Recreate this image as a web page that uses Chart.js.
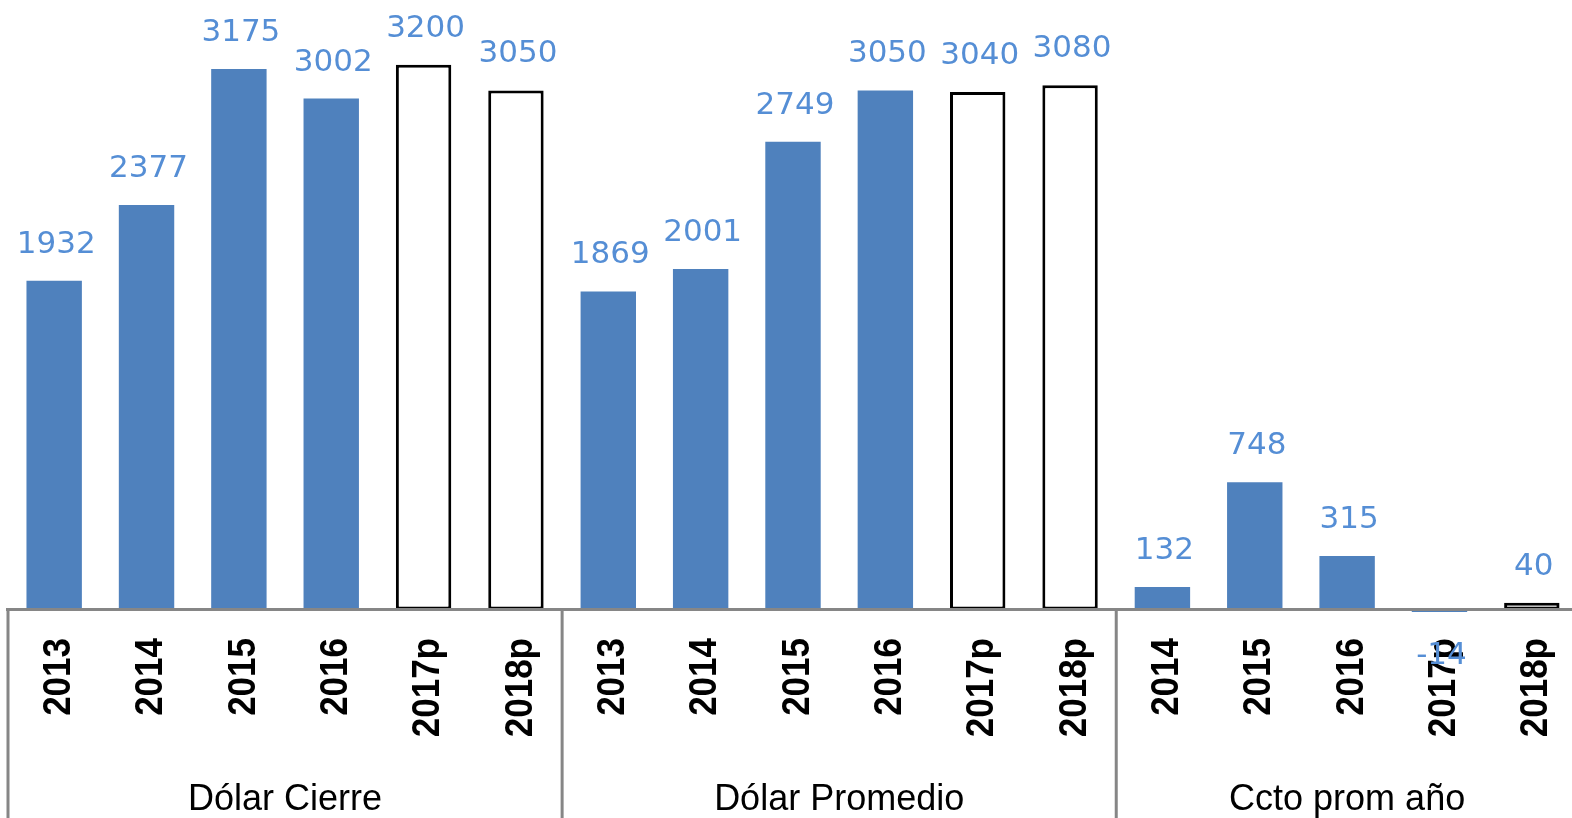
<!doctype html>
<html>

<head>
    <meta charset="utf-8">
    <title>Dólar</title>
    <script src="https://cdn.jsdelivr.net/npm/chart.js"></script>
    <style>
        html, body { margin: 0; padding: 0; background: #fff; overflow: hidden; }
    </style>
</head>

<body>
    <canvas id="grafico" width="1578" height="818"></canvas>

    <script>
        // grupos y valores
        var grupos = ['Dólar Cierre', 'Dólar Promedio', 'Ccto prom año'];
        var aniosCierre = ['2013', '2014', '2015', '2016', '2017p', '2018p'];
        var dolarCierre = [1932, 2377, 3175, 3002, 3200, 3050];
        var aniosPromedio = ['2013', '2014', '2015', '2016', '2017p', '2018p'];
        var dolarPromedio = [1869, 2001, 2749, 3050, 3040, 3080];
        var aniosCcto = ['2014', '2015', '2016', '2017p', '2018p'];
        var cctoPromAnio = [132, 748, 315, -14, 40];

        var etiquetas = aniosCierre.concat(aniosPromedio, aniosCcto);
        var valores = dolarCierre.concat(dolarPromedio, cctoPromAnio);
        var tamGrupos = [aniosCierre.length, aniosPromedio.length, aniosCcto.length];

        // las proyecciones (p) positivas van en blanco con borde negro
        var esProy = etiquetas.map((e, i) => e.endsWith('p') && valores[i] >= 0);
        var azul = '#4F81BD';

        var dibujos = {
            id: 'dibujos',
            afterDatasetsDraw(chart) {
                var ctx = chart.ctx;
                var x = chart.scales.x;
                var y = chart.scales.y;
                var cero = y.getPixelForValue(0);
                var paso = x.getPixelForValue(1) - x.getPixelForValue(0);
                ctx.save();
                ctx.strokeStyle = '#868686';
                ctx.lineWidth = 3;
                ctx.beginPath();
                ctx.moveTo(x.left - 2, cero);
                ctx.lineTo(x.right, cero);
                // separadores de grupo
                var i = 0;
                [0].concat(tamGrupos).forEach(n => {
                    i += n;
                    var px = x.getPixelForValue(i) - paso / 2;
                    ctx.moveTo(px, cero);
                    ctx.lineTo(px, chart.height);
                });
                ctx.stroke();
                ctx.restore();
            },
            afterDraw(chart) {
                var ctx = chart.ctx;
                var x = chart.scales.x;
                var paso = x.getPixelForValue(1) - x.getPixelForValue(0);
                ctx.save();

                // años, rotados
                ctx.fillStyle = '#000';
                ctx.font = 'bold 35px "Liberation Sans"';
                ctx.textAlign = 'right';
                ctx.textBaseline = 'middle';
                etiquetas.forEach((e, i) => {
                    ctx.save();
                    ctx.translate(x.getPixelForValue(i) + 5, 638);
                    ctx.rotate(-Math.PI / 2);
                    ctx.scale(1, 1.1);
                    ctx.fillText(e, 0, 0);
                    ctx.restore();
                });

                // nombres de grupo
                ctx.font = '36px "Liberation Sans"';
                ctx.textAlign = 'center';
                ctx.textBaseline = 'alphabetic';
                var inicio = 0;
                grupos.forEach((g, k) => {
                    var a = x.getPixelForValue(inicio) - paso / 2;
                    var b = x.getPixelForValue(inicio + tamGrupos[k]) - paso / 2;
                    ctx.fillText(g, (a + b) / 2, 810);
                    inicio += tamGrupos[k];
                });

                // valores sobre las barras
                ctx.fillStyle = '#558ED5';
                ctx.font = '31px "DejaVu Sans"';
                chart.getDatasetMeta(0).data.forEach((barra, i) => {
                    var v = valores[i];
                    var py = v >= 0 ? barra.y - 28 : barra.y + 52;
                    ctx.fillText(String(v), barra.x + 2, py);
                });
                ctx.restore();
            }
        };

        var grafico = new Chart(document.getElementById('grafico').getContext('2d'), {
            type: 'bar',
            data: {
                labels: etiquetas,
                datasets: [{
                    data: valores,
                    backgroundColor: esProy.map(p => p ? '#FFFFFF' : azul),
                    borderColor: esProy.map(p => p ? '#000000' : azul),
                    borderWidth: esProy.map(p => p ? 3 : 0),
                    borderSkipped: false,
                    categoryPercentage: 1,
                    barPercentage: 0.6
                }]
            },
            options: {
                responsive: false,
                animation: false,
                layout: { padding: { left: 8, right: 0, top: 0, bottom: 0 } },
                plugins: {
                    legend: { display: false },
                    tooltip: { enabled: false }
                },
                scales: {
                    x: {
                        grid: { display: false },
                        border: { display: false },
                        ticks: { display: false },
                        afterFit: function (escala) { escala.height = 205; }
                    },
                    y: {
                        display: false,
                        min: -20,
                        max: 3581
                    }
                }
            },
            plugins: [dibujos]
        });
    </script>
</body>

</html>
